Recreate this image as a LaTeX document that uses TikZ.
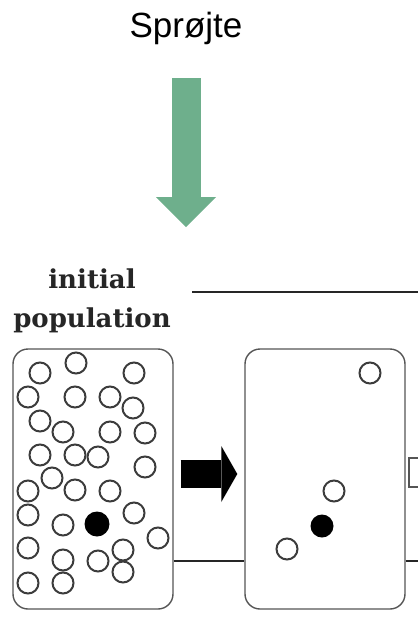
\documentclass[tikz,border=0pt]{standalone}
\usepackage{fontspec}
\setmainfont{DejaVu Serif}
\newfontfamily\arialfont{Liberation Sans}
\usepackage{xcolor}
\usetikzlibrary{arrows.meta, positioning}
\definecolor{spraygreen}{RGB}{110,175,140}
\definecolor{boxgray}{RGB}{85,85,85}
\definecolor{ringgray}{RGB}{60,60,60}

\begin{document}
\begin{tikzpicture}[x=1pt, y=-1pt,
    popbox/.style={rectangle, draw=boxgray, line width=1.4pt, rounded corners=15pt,
        minimum width=160pt, minimum height=260pt, inner sep=0pt},
    ind/.style={circle, draw=ringgray, line width=2pt, minimum size=21pt, inner sep=0pt},
    mutant/.style={circle, fill=black, minimum size=25pt, inner sep=0pt},
    stage/.style={line width=2.6pt, draw=black!85}]
    \useasboundingbox (0,0) rectangle (418,630);

    \node[font=\arialfont\fontsize{35}{40}\selectfont, anchor=base] (spray) at (186,37) {Sprøjte};
    \coordinate (spraytip) at (186,227);
    \draw[line width=29pt, draw=spraygreen, shorten <=41pt,
        -{Triangle[width=60pt, length=30pt, line width=0pt]}] (spray.base) -- (spraytip);

    \node[font=\bfseries\fontsize{26}{39}\selectfont, text=black!85, align=center, anchor=base] (label) at (92,327) {initial\\population};

    \node[popbox] (start) at (93,479) {};
    \node[popbox] (next) at (325,479) {};
    \node[rectangle, draw=boxgray, line width=1.4pt, minimum width=18pt, minimum height=29pt, inner sep=0pt] (cutbox) at (418,472.5) {};

    \foreach \x/\y [count=\i] in {40/373, 76/363, 134/373, 28/397, 75/397, 110/397, 133/408,
        40/421, 63/432, 110/432, 145/433, 40/455, 75/455, 98/457, 145/467, 52/478,
        28/491, 75/490, 110/491, 28/515, 63/525, 134/513, 158/538, 28/548, 63/560,
        98/561, 123/550, 123/572, 28/583, 63/583}
        \node[ind] (p\i) at (\x,\y) {};
    \node[mutant] (m1) at (97,524) {};

    \node[ind] (q1) at (370,373) {};
    \node[ind] (q2) at (334,491) {};
    \node[ind] (q3) at (287,549) {};
    \node[mutant, minimum size=23pt] (m2) at (322,526) {};

    \draw[line width=28pt, shorten <=7pt, shorten >=7pt,
        -{Triangle[width=56pt, length=16pt, line width=0pt]}] ([yshift=5pt]start.east) -- ([yshift=5pt]next.west);

    \coordinate (toplft) at (192,292);
    \coordinate (toprgt) at (418,292);
    \coordinate (baseln) at (0,561);
    \coordinate (basergt) at (418,561);
    \draw[line width=2pt, draw=black!85] (toplft) -- (toprgt);
    \draw[stage] (start.east |- baseln) -- (next.west |- baseln);
    \draw[stage] (next.east |- baseln) -- (basergt);
\end{tikzpicture}
\end{document}
